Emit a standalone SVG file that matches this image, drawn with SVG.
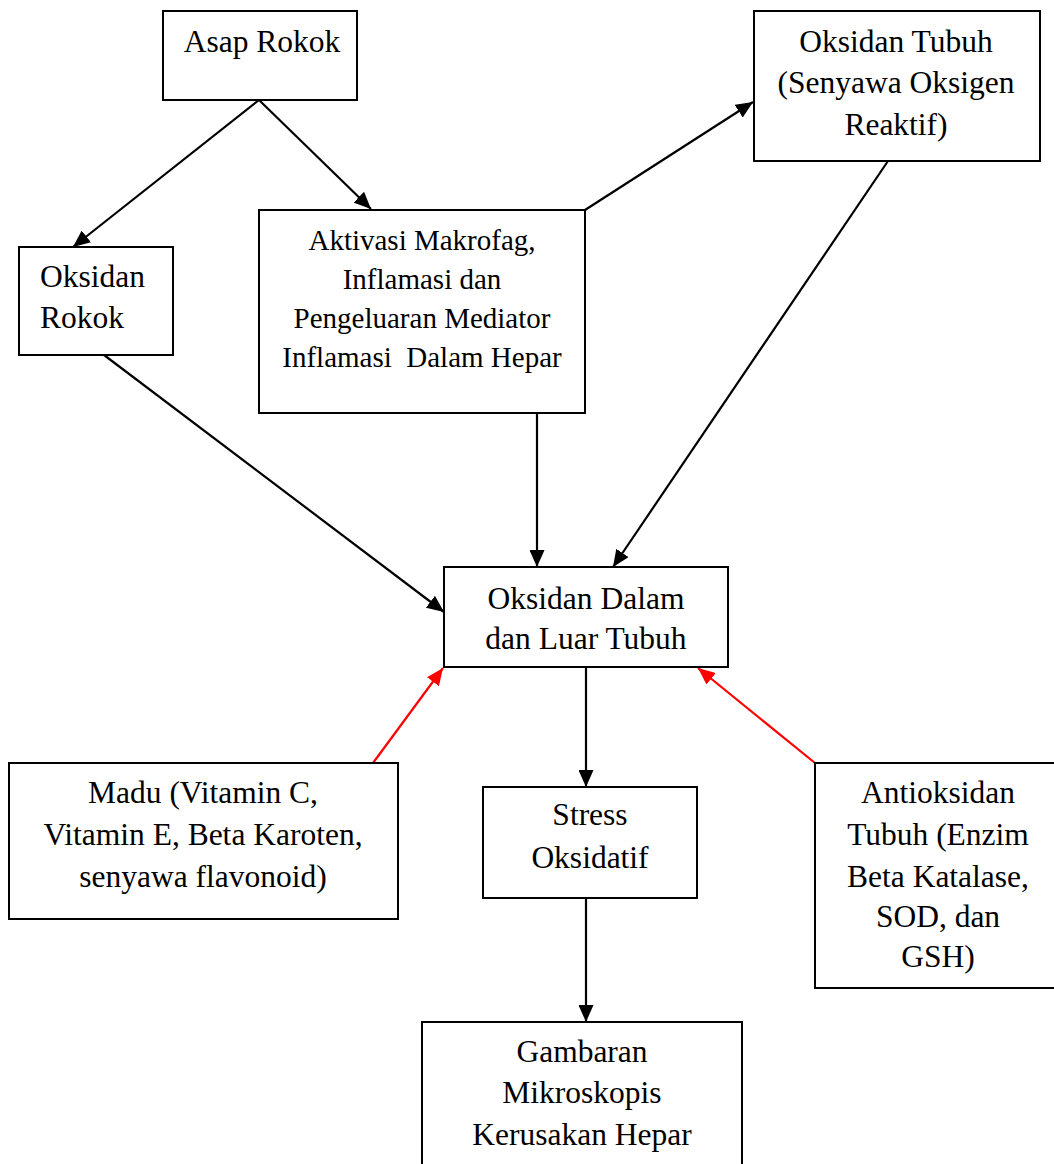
<svg xmlns="http://www.w3.org/2000/svg" width="1054" height="1164" viewBox="0 0 1054 1164">
<style>
  .box { fill: #fff; stroke: #000; stroke-width: 2; }
  .t { font-family: "Liberation Serif", "Times New Roman", serif; font-size: 31.5px; fill: #000; text-anchor: middle; }
  .ts { font-size: 29px; }
  .tl { text-anchor: start; }
  .c { stroke: #000; stroke-width: 2.2; fill: none; }
  .r { stroke: #ff0000; stroke-width: 2.2; fill: none; }
</style>
<defs>
  <marker id="ah" viewBox="0 0 17 15" refX="17" refY="7.5" markerWidth="17" markerHeight="15" markerUnits="userSpaceOnUse" orient="auto">
    <path d="M0,0 L17,7.5 L0,15 Z" fill="#000"/>
  </marker>
  <marker id="ahr" viewBox="0 0 17 15" refX="17" refY="7.5" markerWidth="17" markerHeight="15" markerUnits="userSpaceOnUse" orient="auto">
    <path d="M0,0 L17,7.5 L0,15 Z" fill="#ff0000"/>
  </marker>
</defs>
<rect width="1054" height="1164" fill="#fff"/>

<g id="connectors">
  <line class="c" x1="259" y1="100" x2="73" y2="247" marker-end="url(#ah)"/>
  <line class="c" x1="259" y1="100" x2="371" y2="209" marker-end="url(#ah)"/>
  <line class="c" x1="585" y1="210" x2="753" y2="102" marker-end="url(#ah)"/>
  <line class="c" x1="888" y1="161" x2="613" y2="567" marker-end="url(#ah)"/>
  <line class="c" x1="104" y1="355" x2="444" y2="612" marker-end="url(#ah)"/>
  <line class="c" x1="537" y1="413" x2="537" y2="567" marker-end="url(#ah)"/>
  <line class="r" x1="373" y1="763" x2="443" y2="668" marker-end="url(#ahr)"/>
  <line class="r" x1="815" y1="763" x2="698" y2="668" marker-end="url(#ahr)"/>
  <line class="c" x1="586" y1="667" x2="586" y2="787" marker-end="url(#ah)"/>
  <line class="c" x1="586" y1="898" x2="586" y2="1022" marker-end="url(#ah)"/>
</g>

<g id="asap-rokok">
  <rect class="box" x="163" y="11" width="194" height="89"/>
  <text class="t" x="262" y="52">Asap Rokok</text>
</g>

<g id="oksidan-tubuh">
  <rect class="box" x="754" y="11" width="286" height="150"/>
  <text class="t" x="896" y="52">Oksidan Tubuh</text>
  <text class="t" x="896" y="93">(Senyawa Oksigen</text>
  <text class="t" x="896" y="135">Reaktif)</text>
</g>

<g id="oksidan-rokok">
  <rect class="box" x="19" y="247" width="154" height="108"/>
  <text class="t tl" x="40" y="287">Oksidan</text>
  <text class="t tl" x="40" y="328">Rokok</text>
</g>

<g id="aktivasi">
  <rect class="box" x="259" y="210" width="326" height="203"/>
  <text class="t ts" x="422" y="250">Aktivasi Makrofag,</text>
  <text class="t ts" x="422" y="289">Inflamasi dan</text>
  <text class="t ts" x="422" y="328">Pengeluaran Mediator</text>
  <text class="t ts" x="422" y="367" xml:space="preserve">Inflamasi  Dalam Hepar</text>
</g>

<g id="oksidan-dalam">
  <rect class="box" x="444" y="567" width="284" height="100"/>
  <text class="t" x="586" y="609">Oksidan Dalam</text>
  <text class="t" x="586" y="649">dan Luar Tubuh</text>
</g>

<g id="madu">
  <rect class="box" x="9" y="763" width="389" height="156"/>
  <text class="t" x="203" y="803">Madu (Vitamin C,</text>
  <text class="t" x="203" y="845">Vitamin E, Beta Karoten,</text>
  <text class="t" x="203" y="887">senyawa flavonoid)</text>
</g>

<g id="stress">
  <rect class="box" x="483" y="787" width="214" height="111"/>
  <text class="t" x="590" y="825">Stress</text>
  <text class="t" x="590" y="868">Oksidatif</text>
</g>

<g id="antioksidan">
  <rect class="box" x="815" y="763" width="250" height="225"/>
  <text class="t" x="938" y="803">Antioksidan</text>
  <text class="t" x="938" y="845">Tubuh (Enzim</text>
  <text class="t" x="938" y="887">Beta Katalase,</text>
  <text class="t" x="938" y="927">SOD, dan</text>
  <text class="t" x="938" y="967">GSH)</text>
</g>

<g id="gambaran">
  <rect class="box" x="422" y="1022" width="320" height="160"/>
  <text class="t" x="582" y="1062">Gambaran</text>
  <text class="t" x="582" y="1103">Mikroskopis</text>
  <text class="t" x="582" y="1145">Kerusakan Hepar</text>
</g>
</svg>
